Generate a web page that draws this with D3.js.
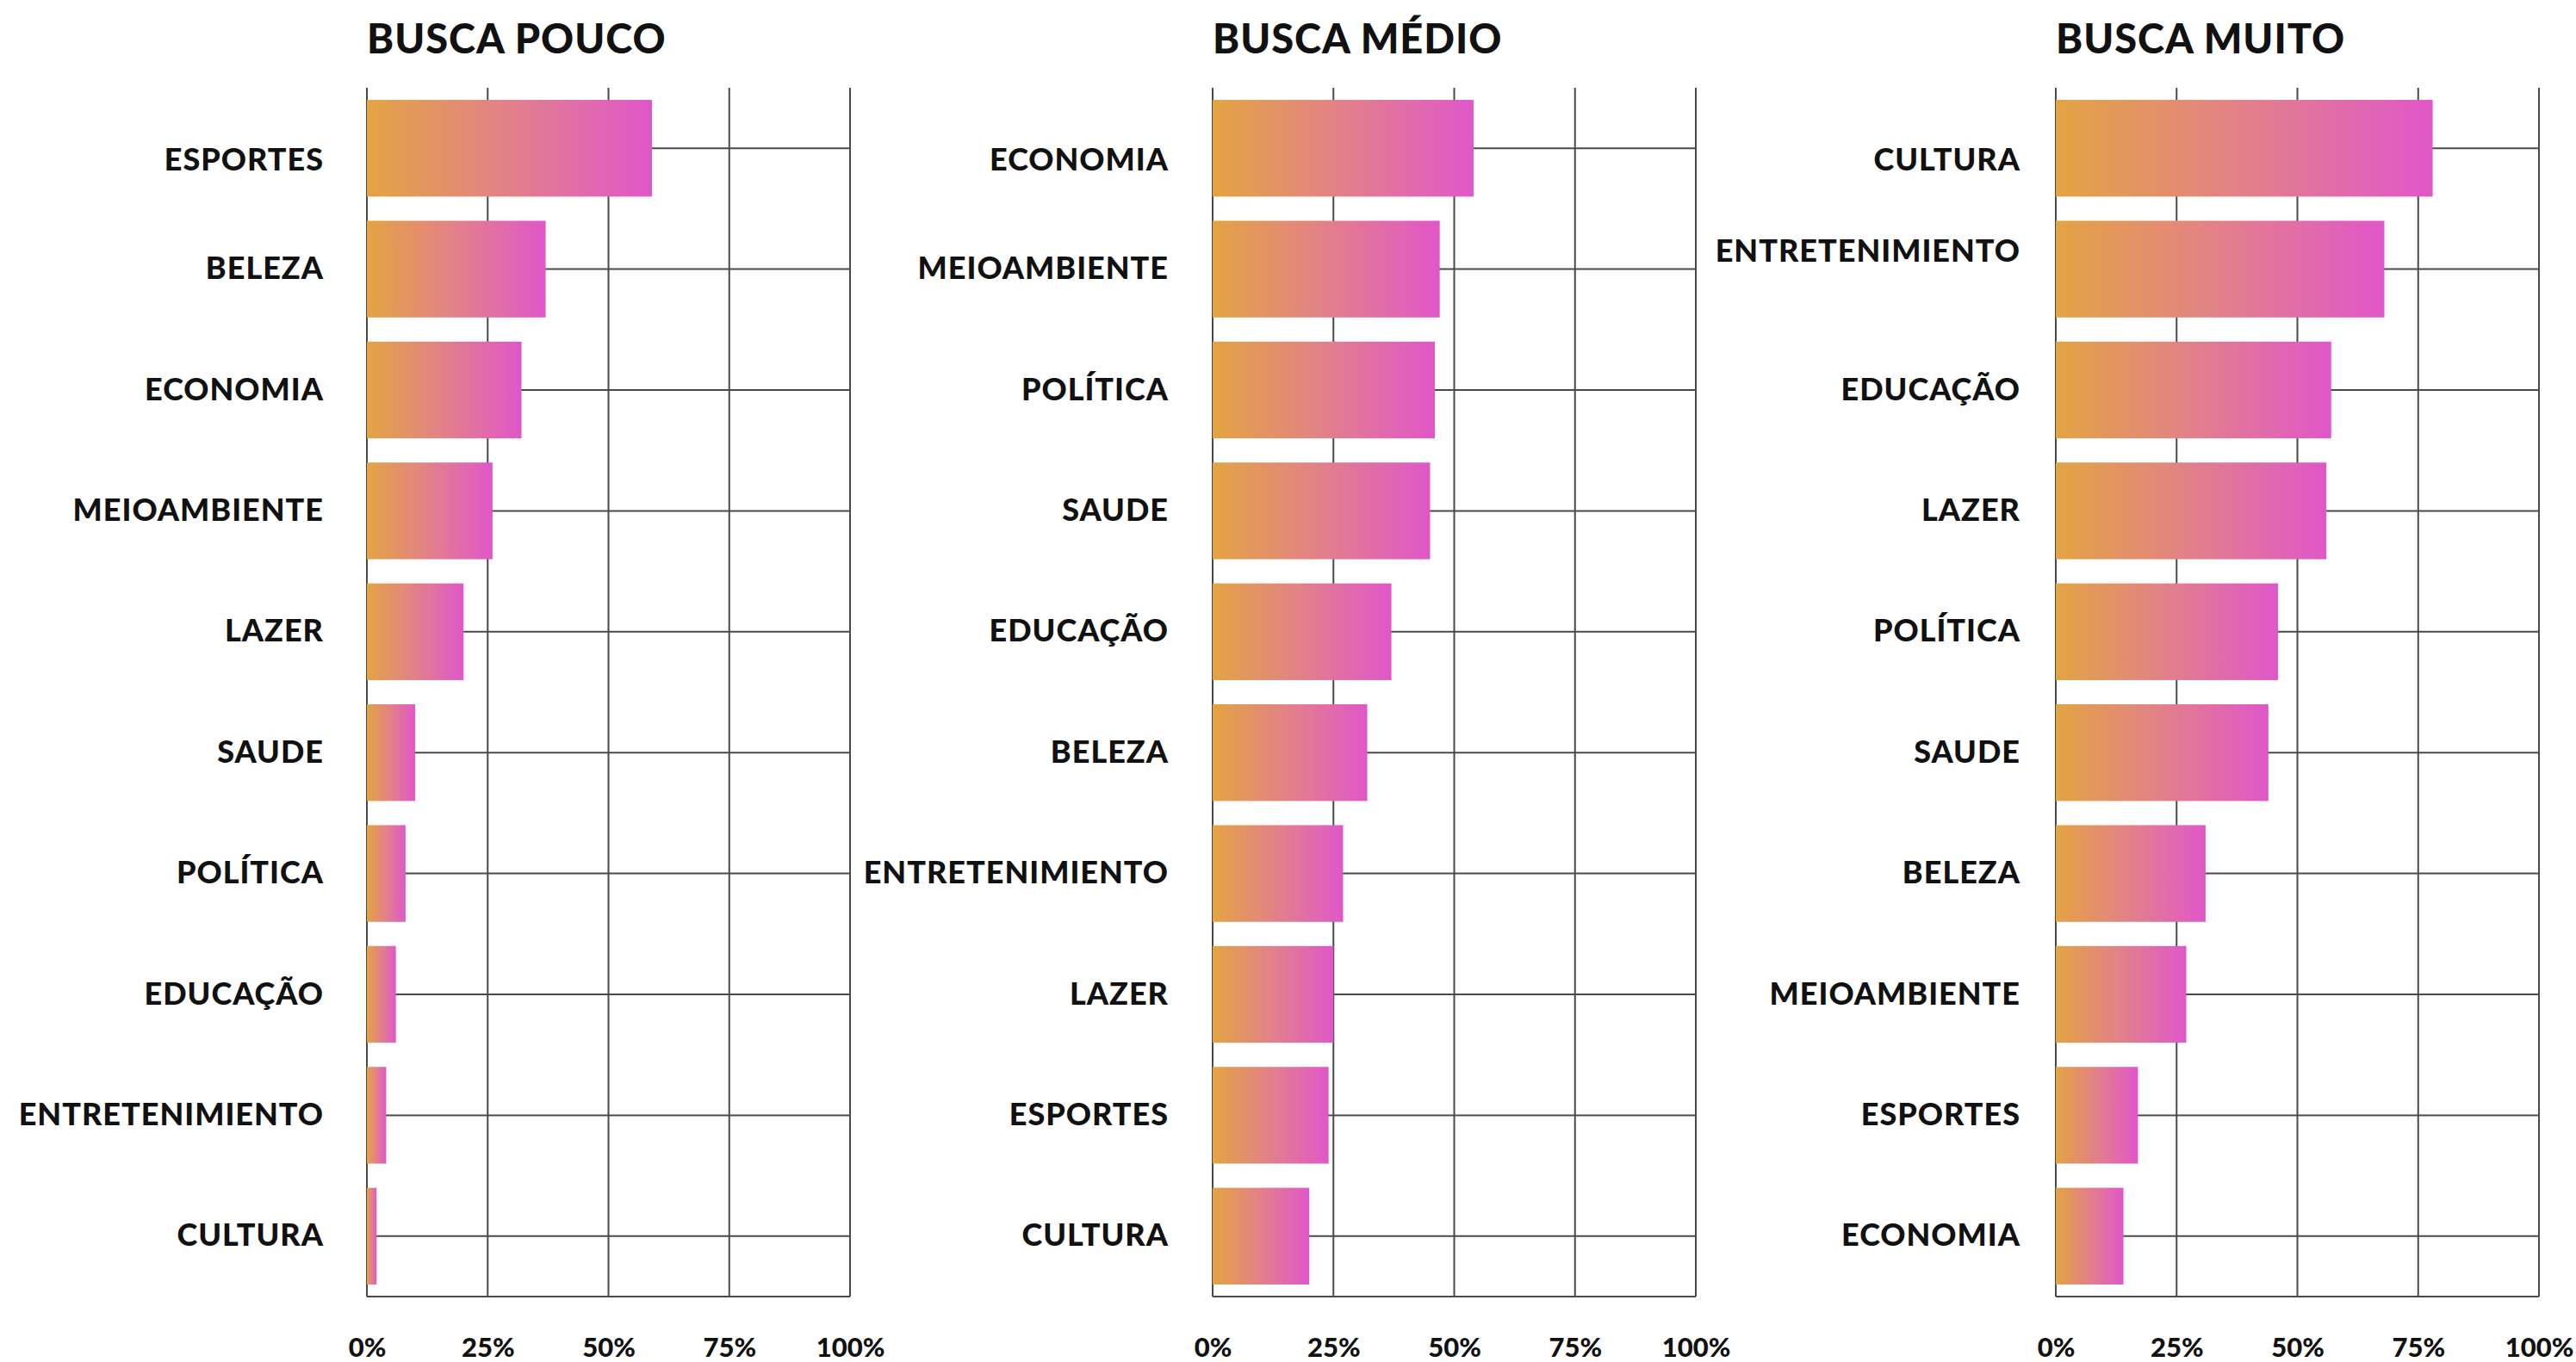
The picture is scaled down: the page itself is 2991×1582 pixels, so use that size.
<!DOCTYPE html>
<html>
<head>
<meta charset="utf-8">
<script src="https://cdn.jsdelivr.net/npm/d3@7"></script>
<style>
  body { margin: 0; background: #fff; }
  text { font-family: Lato, "Open Sans", sans-serif; fill: #111; }
</style>
</head>
<body>
<div id="chart"></div>
<script>
const panelTitles = ["BUSCA POUCO", "BUSCA MÉDIO", "BUSCA MUITO"];

const poucoCategories = ["ESPORTES", "BELEZA", "ECONOMIA", "MEIOAMBIENTE", "LAZER", "SAUDE", "POLÍTICA", "EDUCAÇÃO", "ENTRETENIMIENTO", "CULTURA"];
const poucoValues = [59, 37, 32, 26, 20, 10, 8, 6, 4, 2];

const medioCategories = ["ECONOMIA", "MEIOAMBIENTE", "POLÍTICA", "SAUDE", "EDUCAÇÃO", "BELEZA", "ENTRETENIMIENTO", "LAZER", "ESPORTES", "CULTURA"];
const medioValues = [54, 47, 46, 45, 37, 32, 27, 25, 24, 20];

const muitoCategories = ["CULTURA", "ENTRETENIMIENTO", "EDUCAÇÃO", "LAZER", "POLÍTICA", "SAUDE", "BELEZA", "MEIOAMBIENTE", "ESPORTES", "ECONOMIA"];
const muitoValues = [78, 68, 57, 56, 46, 44, 31, 27, 17, 14];

const tickValues = [0, 25, 50, 75, 100];
const tickLabels = ["0%", "25%", "50%", "75%", "100%"];

class BarPanel {
  constructor(svg, left, title, categories, values, labelGap, nudges) {
    this.svg = svg;
    this.left = left;
    this.title = title;
    this.data = categories.map((c, i) => ({ category: c, value: values[i] }));
    this.labelGap = labelGap;
    this.nudges = nudges || {};
    this.top = 102;
    this.width = 561;
    this.height = 1404;
    this.initVis();
  }

  initVis() {
    const g = this.svg.append("g")
      .attr("transform", `translate(${this.left}, ${this.top})`);

    const x = d3.scaleLinear().domain([0, 100]).range([0, this.width]);
    const y = d3.scaleBand()
      .domain(this.data.map(d => d.category))
      .range([0, this.height])
      .paddingInner(0.2)
      .paddingOuter(0.1);

    g.append("text")
      .attr("x", 0)
      .attr("y", 62 - this.top)
      .style("font-size", "47px")
      .style("font-weight", 900)
      .style("letter-spacing", "1px")
      .text(this.title);

    // vertical grid
    g.selectAll(".vgrid")
      .data(tickValues)
      .join("line")
      .attr("class", "vgrid")
      .attr("x1", d => x(d)).attr("x2", d => x(d))
      .attr("y1", 0).attr("y2", this.height)
      .attr("stroke", "#4a4a4a").attr("stroke-width", 2);

    // horizontal grid through bar centres
    g.selectAll(".hgrid")
      .data(this.data)
      .join("line")
      .attr("class", "hgrid")
      .attr("x1", 0).attr("x2", this.width)
      .attr("y1", d => y(d.category) + y.bandwidth() / 2)
      .attr("y2", d => y(d.category) + y.bandwidth() / 2)
      .attr("stroke", "#4a4a4a").attr("stroke-width", 2);

    g.append("line")
      .attr("x1", 0).attr("x2", this.width)
      .attr("y1", this.height).attr("y2", this.height)
      .attr("stroke", "#4a4a4a").attr("stroke-width", 2);

    g.selectAll(".bar")
      .data(this.data)
      .join("rect")
      .attr("class", "bar")
      .attr("x", 0)
      .attr("y", d => y(d.category))
      .attr("width", d => x(d.value))
      .attr("height", y.bandwidth())
      .attr("fill", "url(#barGrad)");

    const yAxis = g.append("g")
      .call(d3.axisLeft(y).tickSize(0).tickPadding(this.labelGap));
    yAxis.select(".domain").remove();
    yAxis.selectAll("text")
      .attr("fill", "#111")
      .attr("y", d => this.nudges[d] || 0)
      .style("font-family", "Lato, sans-serif")
      .style("font-size", "36px")
      .style("font-weight", 900)
      .style("letter-spacing", "1px");

    const xAxis = g.append("g")
      .attr("transform", `translate(0, ${this.height})`)
      .call(d3.axisBottom(x).tickValues(tickValues)
        .tickFormat((d, i) => tickLabels[i]).tickSize(0).tickPadding(48));
    xAxis.select(".domain").remove();
    xAxis.selectAll("text")
      .attr("fill", "#111")
      .style("font-family", "Lato, sans-serif")
      .style("font-size", "31px")
      .style("font-weight", 900);
  }
}

const svg = d3.select("#chart")
  .append("svg")
  .attr("width", 2991)
  .attr("height", 1582);

const grad = svg.append("defs").append("linearGradient")
  .attr("id", "barGrad")
  .attr("x1", "0%").attr("x2", "100%")
  .attr("y1", "0%").attr("y2", "0%");
grad.append("stop").attr("offset", "0%").attr("stop-color", "#e3a442");
grad.append("stop").attr("offset", "50%").attr("stop-color", "#e2808a");
grad.append("stop").attr("offset", "100%").attr("stop-color", "#e057c9");

new BarPanel(svg, 426, panelTitles[0], poucoCategories, poucoValues, 50, { "ESPORTES": 14 });
new BarPanel(svg, 1408, panelTitles[1], medioCategories, medioValues, 51, { "ECONOMIA": 14 });
new BarPanel(svg, 2387, panelTitles[2], muitoCategories, muitoValues, 41, { "CULTURA": 14, "ENTRETENIMIENTO": -20 });
</script>
</body>
</html>
